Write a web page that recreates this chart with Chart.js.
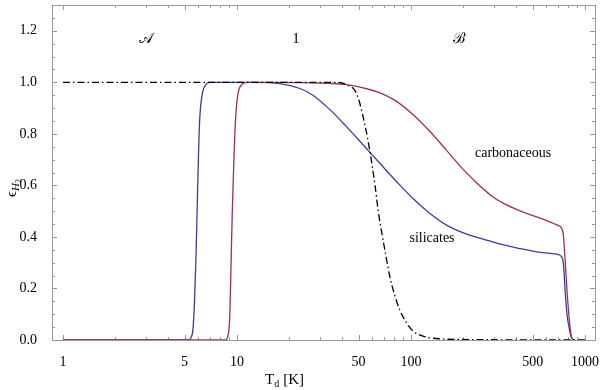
<!DOCTYPE html>
<html>
<head>
<meta charset="utf-8">
<script src="https://cdn.jsdelivr.net/npm/chart.js@4.4.0/dist/chart.umd.min.js"></script>
<style>
  html, body { margin: 0; padding: 0; background: #fff; }
  #wrap { width: 600px; height: 390px; }
</style>
</head>
<body>
<div id="wrap"><canvas id="chart"></canvas></div>
<script>
// dust temperature (K) and H2 formation efficiency
const silT = [1, 5.2, 5.45, 5.6, 5.7, 5.8, 5.9, 6.0, 6.1, 6.3, 6.6, 7, 12, 17.7, 23, 27.3, 34.2, 42.7, 50.9, 58.1, 66.4, 75.7, 82.7, 103, 128.5, 160, 200, 271, 340, 423, 527, 687, 735, 750, 760, 767, 788, 820, 842, 876];
const silEff = [0, 0, 0.01, 0.05, 0.15, 0.3, 0.5, 0.7, 0.85, 0.95, 0.99, 1, 1, 0.995, 0.976, 0.95, 0.894, 0.827, 0.771, 0.728, 0.685, 0.642, 0.614, 0.548, 0.491, 0.446, 0.416, 0.388, 0.369, 0.355, 0.342, 0.333, 0.323, 0.3, 0.25, 0.2, 0.1, 0.03, 0.005, 0];

const carbT = [1, 8.6, 8.9, 9.1, 9.25, 9.4, 9.6, 9.8, 10.1, 10.6, 11.5, 17.7, 30, 42.7, 55.6, 66.4, 75.7, 82.7, 103, 128.5, 160, 200, 230, 249, 284, 340, 423, 527, 687, 735, 750, 767, 788, 820, 842, 876];
const carbEff = [0, 0, 0.02, 0.1, 0.3, 0.5, 0.7, 0.85, 0.95, 0.99, 1, 1, 0.997, 0.991, 0.975, 0.959, 0.941, 0.926, 0.874, 0.809, 0.736, 0.661, 0.62, 0.598, 0.564, 0.530, 0.501, 0.478, 0.447, 0.433, 0.41, 0.32, 0.19, 0.05, 0.005, 0];

const physT = [1, 38, 42.7, 48.7, 54.4, 58.1, 62.1, 64.9, 68, 71.8, 75.6, 80.9, 86.4, 93.6, 102.4, 117.2, 133, 200, 1000];
const physEff = [1, 1, 0.99, 0.956, 0.833, 0.73, 0.601, 0.497, 0.415, 0.325, 0.245, 0.17, 0.115, 0.07, 0.035, 0.015, 0.007, 0.002, 0];

const xTicks = [1, 5, 10, 50, 100, 500, 1000];
const yTicks = [0, 0.2, 0.4, 0.6, 0.8, 1.0, 1.2];

// text annotations: [label, T, eff]
const regionLabels = [['\u{1D49C}', 3.0, 1.167], ['1', 21.8, 1.167], ['\u212C', 189, 1.167]];
const curveLabels = [['carbonaceous', 386, 0.725], ['silicates', 132, 0.395]];

const serif = '"Liberation Serif", "DejaVu Serif", serif';
const frameColor = '#999';

const toPts = (xs, ys) => xs.map((x, i) => ({ x: x, y: ys[i] }));

// box frame with inward ticks on all four sides
const framePlugin = {
  id: 'frame',
  beforeDatasetsDraw(chart) {
    const { ctx, chartArea: a, scales } = chart;
    ctx.save();
    ctx.strokeStyle = frameColor;
    ctx.lineWidth = 1;
    ctx.strokeRect(a.left + 0.5, a.top + 0.5, a.right - a.left, a.bottom - a.top);
    ctx.beginPath();
    for (let d = 0; d <= 3; d++) {
      for (let m = 1; m <= 9; m++) {
        const v = m * Math.pow(10, d);
        if (v > scales.x.max) continue;
        const px = Math.round(scales.x.getPixelForValue(v)) + 0.5;
        const len = (m === 1 || m === 5) ? 5 : 3;
        ctx.moveTo(px, a.bottom); ctx.lineTo(px, a.bottom - len);
        ctx.moveTo(px, a.top); ctx.lineTo(px, a.top + len);
      }
    }
    for (let i = 0; i <= 26; i++) {
      const v = i * 0.05;
      const py = Math.round(scales.y.getPixelForValue(v)) + 0.5;
      const len = (i % 4 === 0) ? 5 : 3;
      ctx.moveTo(a.left, py); ctx.lineTo(a.left + len, py);
      ctx.moveTo(a.right, py); ctx.lineTo(a.right - len, py);
    }
    ctx.stroke();
    ctx.restore();
  },
  afterDatasetsDraw(chart) {
    const { ctx, scales } = chart;
    ctx.save();
    ctx.fillStyle = '#000';
    ctx.textAlign = 'center';
    ctx.textBaseline = 'middle';
    ctx.font = '15px ' + serif;
    regionLabels.forEach(([t, x, y]) => {
      ctx.fillText(t, scales.x.getPixelForValue(x), scales.y.getPixelForValue(y));
    });
    ctx.font = '14px ' + serif;
    curveLabels.forEach(([t, x, y]) => {
      ctx.fillText(t, scales.x.getPixelForValue(x), scales.y.getPixelForValue(y));
    });

    // x axis title: T_d [K]
    ctx.textAlign = 'left';
    ctx.textBaseline = 'alphabetic';
    let x = 265, base = 384;
    ctx.font = '15px ' + serif;
    ctx.fillText('T', x, base);
    x += ctx.measureText('T').width;
    ctx.font = '10px ' + serif;
    ctx.fillText('d', x, base + 3);
    x += ctx.measureText('d').width + 4;
    ctx.font = '15px ' + serif;
    ctx.fillText('[K]', x, base);

    // y axis title: eps_H2, rotated
    ctx.translate(16, 197);
    ctx.rotate(-Math.PI / 2);
    let yx = 0;
    ctx.font = '15px ' + serif;
    ctx.fillText('\u03F5', yx, 0);
    yx += ctx.measureText('\u03F5').width;
    ctx.font = 'italic 11px ' + serif;
    ctx.fillText('H', yx, 3);
    yx += ctx.measureText('H').width;
    ctx.font = '8px ' + serif;
    ctx.fillText('2', yx, 5);
    ctx.restore();
  }
};

const lineDs = (label, pts, color, dash) => ({
  label: label,
  data: pts,
  borderColor: color,
  borderWidth: 1.3,
  borderDash: dash || [],
  pointRadius: 0,
  fill: false,
  cubicInterpolationMode: 'monotone'
});

new Chart(document.getElementById('chart'), {
  type: 'line',
  data: {
    datasets: [
      lineDs('physisorption', toPts(physT, physEff), '#000', [7, 3, 1.5, 3]),
      lineDs('carbonaceous', toPts(carbT, carbEff), '#9c2f60'),
      lineDs('silicates', toPts(silT, silEff), '#3c3c9e')
    ]
  },
  options: {
    responsive: true,
    maintainAspectRatio: false,
    animation: false,
    layout: { padding: { top: 5, right: 5, left: 0, bottom: 0 } },
    plugins: { legend: { display: false }, tooltip: { enabled: false } },
    scales: {
      x: {
        type: 'logarithmic',
        min: 0.865,
        max: 1141,
        afterBuildTicks: (s) => { s.ticks = xTicks.map(v => ({ value: v })); },
        afterFit: (s) => { s.height = 50; s.paddingLeft = 0; s.paddingRight = 0; },
        grid: { display: false },
        border: { display: false },
        ticks: {
          autoSkip: false,
          maxRotation: 0,
          padding: 6,
          color: '#000',
          font: { family: serif, size: 14 },
          callback: (v) => String(v)
        }
      },
      y: {
        min: 0,
        max: 1.3,
        afterBuildTicks: (s) => { s.ticks = yTicks.map(v => ({ value: v })); },
        afterFit: (s) => { s.width = 52; s.paddingTop = 0; s.paddingBottom = 0; },
        grid: { display: false },
        border: { display: false },
        ticks: {
          padding: 7,
          color: '#000',
          font: { family: serif, size: 14 },
          callback: (v) => Number(v).toFixed(1)
        }
      }
    }
  },
  plugins: [framePlugin]
});
</script>
</body>
</html>
